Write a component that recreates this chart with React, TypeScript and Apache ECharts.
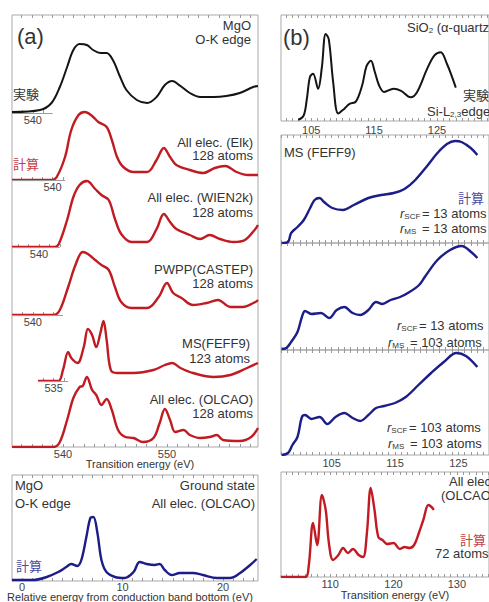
import React, { useEffect, useRef } from 'react';
import * as echarts from 'echarts';

// ---------- (a) MgO O-K edge, stacked spectra (energy eV, intensity a.u.) ----------
const expE = [538.0, 540.7, 541.8, 542.6, 543.3, 543.9, 544.5, 545.2, 545.8, 546.5, 547.1, 547.7, 548.4, 549.0, 550.0, 551.0, 551.9, 552.7, 553.4, 554.2, 555.1, 556.1, 557.4, 558.6, 559.9, 561.2, 561.65];
const expI = [1, 3, 10, 26, 46, 63, 69, 68, 63, 60, 60, 53, 36, 23, 13, 10, 16, 28, 32, 27, 20, 16, 16, 17, 20, 26, 27];

const elkE = [536.1, 539.9, 540.4, 541.2, 541.8, 542.5, 543.1, 543.8, 544.4, 545.2, 545.7, 546.2, 546.8, 547.8, 549.1, 550.0, 550.7, 551.3, 551.9, 553.2, 554.5, 555.6, 556.6, 557.7, 558.8, 559.75];
const elkI = [0, 0, 3, 23, 50, 65, 68, 64, 58, 53, 40, 23, 13, 8, 8, 20, 32, 23, 15, 10, 7, 12, 14, 8, 5, 5];

const wienE = [537.4, 541.5, 541.9, 542.7, 543.3, 543.9, 544.6, 545.4, 546.0, 546.7, 547.3, 547.9, 548.9, 550.4, 551.3, 552.0, 552.6, 553.2, 554.5, 555.5, 556.4, 557.4, 558.7, 559.8, 560.8, 561.05];
const wienI = [0, 0, 3, 27, 50, 62, 66, 58, 52, 47, 28, 13, 5, 5, 18, 33, 25, 18, 12, 8, 12, 8, 5, 7, 18, 22];

const castepE = [538.0, 542.0, 542.6, 543.4, 544.1, 544.8, 545.3, 546.0, 546.6, 547.3, 547.9, 548.5, 549.5, 551.0, 552.1, 552.9, 553.5, 554.3, 555.4, 556.7, 557.8, 559.0, 560.2, 561.4, 561.65];
const castepI = [0, 0, 5, 28, 50, 63, 61, 55, 50, 45, 28, 13, 7, 7, 18, 32, 22, 17, 10, 12, 15, 8, 8, 13, 15];

const feffE = [533.5, 535.45, 535.9, 536.4, 536.7, 537.3, 537.9, 538.3, 538.7, 539.1, 539.5, 539.8, 540.1, 540.5, 541.1, 542.7, 544.6, 545.7, 546.4, 547.2, 548.4, 550.4, 552.0, 553.6, 554.65];
const feffI = [0, 0, 11, 29, 23, 18, 34, 52, 46, 34, 48, 60, 41, 11, 8, 8, 11, 16, 18, 13, 8, 4, 6, 13, 18];

const olcaoE = [535.1, 539.1, 539.7, 540.4, 541.0, 541.6, 541.9, 542.3, 542.8, 543.2, 543.7, 544.2, 544.7, 545.3, 546.0, 546.8, 547.7, 548.7, 549.3, 549.8, 550.3, 550.8, 551.6, 552.2, 553.2, 554.1, 554.8, 555.4, 557.0, 558.1, 558.75];
const olcaoI = [0, 0, 5, 27, 49, 60, 61, 70, 57, 52, 42, 48, 37, 17, 10, 9, 5, 9, 24, 38, 27, 15, 17, 12, 9, 10, 12, 7, 6, 10, 19];

// ground state (relative energy eV)
const gsE = [-1.0, 1.1, 2.45, 3.6, 4.4, 4.9, 5.5, 5.9, 6.4, 6.8, 7.1, 7.5, 7.9, 8.4, 9.25, 10.2, 11.1, 11.7, 12.4, 13.2, 13.7, 14.2, 14.9, 15.7, 17.0, 18.0, 19.4, 20.7, 21.7, 22.7, 23.35];
const gsI = [1, 1, 4, 9, 14, 17, 15, 21, 44, 63, 64, 48, 21, 9, 4, 3, 9, 19, 17, 16, 17, 11, 6, 8, 8, 6, 3, 3, 8, 16, 22];

// ---------- (b) SiO2 Si-L2,3 edge ----------
const sio2E = [102.95, 103.8, 104.3, 104.8, 105.3, 106.1, 106.7, 107.3, 107.8, 108.5, 109.3, 110.2, 111.1, 112.1, 113.1, 113.8, 114.5, 115.1, 115.8, 116.6, 118.1, 119.3, 120.8, 121.85, 123.4, 124.6, 125.6, 126.6, 127.4, 128.0];
const sio2I = [1, 5, 20, 41, 44, 30, 50, 81, 76, 36, 7, 11, 16, 18, 33, 51, 56, 46, 33, 27, 30, 28, 22, 27, 48, 61, 64, 53, 41, 31];

const ms1E = [97.1, 98.1, 98.6, 99.6, 100.6, 101.6, 102.3, 103.1, 103.8, 105.1, 106.8, 108.5, 110.8, 112.8, 114.8, 116.5, 118.2, 120.2, 121.7, 123.2, 124.5, 125.5, 126.95, 128.0];
const ms1I = [0, 1, 10, 16, 23, 35, 43, 45, 41, 35, 33, 38, 45, 48, 50, 54, 63, 78, 90, 99, 102, 101, 95, 88];

const ms2E = [97.1, 97.85, 98.6, 99.6, 100.3, 100.8, 101.8, 103.3, 104.6, 105.8, 107.0, 108.3, 109.5, 110.8, 112.0, 113.0, 114.3, 115.8, 117.3, 118.8, 119.7, 121.7, 123.7, 125.5, 127.2, 128.0];
const ms2I = [1, 2, 8, 18, 33, 39, 36, 37, 32, 40, 43, 37, 35, 40, 48, 46, 50, 53, 58, 65, 73, 90, 100, 104, 97, 92];

const ms3E = [97.1, 98.1, 98.8, 99.6, 100.3, 100.8, 101.8, 103.1, 104.3, 105.6, 107.0, 108.3, 109.5, 110.8, 112.0, 113.3, 115.0, 116.7, 118.7, 120.7, 122.7, 124.7, 126.2, 128.0];
const ms3I = [0, 2, 10, 18, 38, 40, 36, 38, 31, 38, 42, 37, 34, 40, 47, 49, 52, 58, 70, 82, 93, 102, 99, 88];

const siOlcaoE = [102.2, 106.1, 106.6, 107.3, 107.95, 108.7, 109.3, 109.8, 110.45, 111.3, 112.05, 112.8, 113.6, 114.5, 115.2, 115.8, 116.4, 117.0, 117.6, 118.25, 119.0, 120.0, 121.0, 121.75, 122.5, 123.25, 124.0, 124.7, 125.5, 126.0, 126.35];
const siOlcaoI = [0, 0, 10, 54, 32, 82, 67, 34, 17, 22, 29, 24, 28, 22, 20, 44, 89, 67, 40, 37, 33, 34, 28, 30, 29, 32, 44, 57, 72, 70, 67];

// ---------- tick labels ----------
const aTickLabels = [540, 550];
const feffTickLabel = [535];
const stackTickLabel = [540];
const gsTickLabels = [0, 10, 20];
const b1TickLabels = [105, 115, 125];
const bMsTickLabels = [105, 115, 125];
const b5TickLabels = [110, 120, 130];

// short baseline axis segments of stacked spectra [start, end] (eV)
const expSeg = [538.0, 541.9];
const elkSeg = [536.1, 541.2];
const wienSeg = [537.4, 542.0];
const castepSeg = [538.0, 542.9];
const feffSeg = [533.5, 536.4];

const F = '"Liberation Sans", Arial, sans-serif';
const J = '"Noto Sans CJK JP", "Noto Sans CJK SC", sans-serif';
const RED = '#c01b22';
const BLUE = '#1d1d88';
const BLACK = '#141414';
const FRAME = '#a9a9a9';
const TXT = '#333333';
const RED_T = '#c44048';
const BLUE_T = '#4b4ba0';

function ints(a: number, b: number) {
  const r: number[] = [];
  for (let v = a; v <= b; v++) r.push(v);
  return r;
}
function pairs(xs: number[], ys: number[]) {
  return xs.map((x, i) => [x, ys[i]]);
}

function buildOption() {
  const grids: any[] = [];
  const xAxes: any[] = [];
  const yAxes: any[] = [];
  const series: any[] = [];

  const addGrid = (g: any) => { grids.push(g); return grids.length - 1; };
  const xAx = (grid: number, min: number, max: number, o: any = {}) => {
    xAxes.push({
      type: 'value', gridIndex: grid, min, max,
      position: o.top ? 'top' : 'bottom',
      axisLine: { show: false },
      splitLine: { show: false },
      axisTick: o.ticks
        ? { show: true, inside: true, length: 3, customValues: o.ticks, lineStyle: { color: '#999', width: 1 } }
        : { show: false },
      axisLabel: o.labels
        ? { show: true, customValues: o.labels, margin: o.margin ?? 2, fontSize: 11, lineHeight: 11, color: '#444', fontFamily: F }
        : { show: false },
    });
    return xAxes.length - 1;
  };
  const yAx = (grid: number, max: number) => {
    yAxes.push({ type: 'value', gridIndex: grid, min: 0, max, show: false });
    return yAxes.length - 1;
  };
  const addLine = (xi: number, yi: number, E: number[], I: number[], color: string, width: number, seg?: number[]) => {
    const s: any = {
      type: 'line', xAxisIndex: xi, yAxisIndex: yi, data: pairs(E, I),
      showSymbol: false, symbol: 'none', smooth: 0.35, silent: true,
      lineStyle: { color, width }, z: 3,
    };
    if (seg) {
      s.markLine = {
        silent: true, symbol: 'none', label: { show: false },
        lineStyle: { color: '#9a9a9a', width: 1, type: 'solid' },
        data: [[{ coord: [seg[0], 0] }, { coord: [seg[1], 0] }]],
      };
    }
    series.push(s);
  };

  // ---- panel (a) frame ----
  const gA = addGrid({ left: 12, top: 15, width: 246, height: 432, show: true, borderColor: FRAME, borderWidth: 1 });
  xAx(gA, 535.1, 558.75, { labels: aTickLabels, ticks: ints(536, 558), margin: 1 });
  xAx(gA, 535.1, 558.75, { top: true, ticks: ints(536, 558) });
  yAx(gA, 1);

  const span = 246 / 10.4;
  const stack = [
    { E: expE, I: expI, min: 538.0, base: 113, color: BLACK, w: 2, seg: expSeg, labels: stackTickLabel, ticks: [539, 540, 541] },
    { E: elkE, I: elkI, min: 536.1, base: 180, color: RED, w: 2.4, seg: elkSeg, labels: stackTickLabel, ticks: [537, 538, 539, 540, 541] },
    { E: wienE, I: wienI, min: 537.4, base: 247, color: RED, w: 2.4, seg: wienSeg, labels: stackTickLabel, ticks: [538, 539, 540, 541, 542] },
    { E: castepE, I: castepI, min: 538.0, base: 315, color: RED, w: 2.4, seg: castepSeg, labels: stackTickLabel, ticks: [539, 540, 541, 542] },
    { E: feffE, I: feffI, min: 531.0, base: 381, color: RED, w: 2.4, seg: feffSeg, labels: feffTickLabel, ticks: [534, 535, 536] },
    { E: olcaoE, I: olcaoI, min: 535.1, base: 447, color: RED, w: 2.4, seg: undefined, labels: undefined, ticks: undefined },
  ];
  stack.forEach((c) => {
    const g = addGrid({ left: 12, top: c.base - 75, width: 246, height: 75, show: false });
    const xi = xAx(g, c.min, c.min + span, { labels: c.labels, ticks: c.ticks, margin: 1 });
    const yi = yAx(g, 75);
    addLine(xi, yi, c.E, c.I, c.color, c.w, c.seg);
  });

  // ---- ground state panel ----
  const gG = addGrid({ left: 12, top: 475, width: 246, height: 106, show: true, borderColor: FRAME, borderWidth: 1 });
  const gx = xAx(gG, -1, 23.48, { labels: gsTickLabels, ticks: ints(0, 23), margin: 0 });
  xAx(gG, -1, 23.48, { top: true, ticks: ints(0, 23) });
  const gy = yAx(gG, 106);
  addLine(gx, gy, gsE, gsI, BLUE, 2.4);

  // ---- panel (b) ----
  const rightPanels = [
    { top: 15, h: 106, min: 100.2, max: 133.28, ymax: 98.6, E: sio2E, I: sio2I, color: BLACK, w: 2, labels: b1TickLabels, m: 3 },
    { top: 135, h: 108, min: 97, max: 129.84, ymax: 108, E: ms1E, I: ms1I, color: BLUE, w: 2.4, labels: undefined, m: 2 },
    { top: 243, h: 107, min: 97, max: 129.84, ymax: 107, E: ms2E, I: ms2I, color: BLUE, w: 2.4, labels: undefined, m: 2 },
    { top: 350, h: 105, min: 97, max: 129.84, ymax: 105, E: ms3E, I: ms3I, color: BLUE, w: 2.4, labels: bMsTickLabels, m: 2 },
    { top: 472, h: 105, min: 102.24, max: 135.07, ymax: 105, E: siOlcaoE, I: siOlcaoI, color: RED, w: 2.4, labels: b5TickLabels, m: 1 },
  ];
  rightPanels.forEach((p) => {
    const g = addGrid({ left: 281, top: p.top, width: 220, height: p.h, show: true, borderColor: FRAME, borderWidth: 1 });
    const t = ints(Math.ceil(p.min), Math.floor(p.max));
    const xi = xAx(g, p.min, p.max, { labels: p.labels, ticks: t, margin: p.m });
    xAx(g, p.min, p.max, { top: true, ticks: t });
    const yi = yAx(g, p.ymax);
    addLine(xi, yi, p.E, p.I, p.color, p.w);
  });

  // ---- texts ----
  const T = (text: string, x: number, y: number, o: any = {}) => ({
    type: 'text', x, y, silent: true, z: 10,
    style: {
      text, fill: o.color || TXT, fontSize: o.size || 13, fontFamily: o.font || F,
      lineHeight: o.lh || (o.size ? o.size : 12),
      textAlign: o.align || 'left', textVerticalAlign: 'middle', verticalAlign: 'middle',
    },
  });
  const baseRich = (color: string) => ({
    a: { fontSize: 13, fontFamily: F, fill: color, lineHeight: 15 },
    r: { fontSize: 13, fontFamily: F, fontStyle: 'italic', fill: color, lineHeight: 15 },
    s: { fontSize: 8, fontFamily: F, fill: color, lineHeight: 8, verticalAlign: 'bottom' },
    sw: { fontSize: 8, fontFamily: F, fill: color, lineHeight: 8, verticalAlign: 'bottom', width: 14 },
    t: { fontSize: 13, fontFamily: F, fill: color, lineHeight: 15 },
  });
  const R = (text: string, x: number, y: number) => ({
    type: 'text', x, y, silent: true, z: 10,
    style: { text, rich: baseRich(TXT), textAlign: 'left', textVerticalAlign: 'middle', verticalAlign: 'middle' },
  });
  const rs = (sub: string, rest: string) => `{r|r}{sw|${sub}}{t| = ${rest}}`;

  const graphic = [
    T('(a)', 17, 36, { size: 22 }),
    T('MgO', 251, 25, { align: 'right' }),
    T('O-K edge', 251, 39, { align: 'right' }),
    T('実験', 13, 93, { font: J }),
    T('計算', 13, 163, { font: J, color: RED_T }),
    T('All elec. (Elk)', 253, 142, { align: 'right' }),
    T('128 atoms', 253, 155, { align: 'right' }),
    T('All elec. (WIEN2k)', 253, 197, { align: 'right' }),
    T('128 atoms', 253, 212, { align: 'right' }),
    T('PWPP(CASTEP)', 253, 269, { align: 'right' }),
    T('128 atoms', 253, 283, { align: 'right' }),
    T('MS(FEFF9)', 250, 343, { align: 'right' }),
    T('123 atoms', 250, 358, { align: 'right' }),
    T('All elec. (OLCAO)', 253, 399, { align: 'right' }),
    T('128 atoms', 253, 413, { align: 'right' }),
    T('Transition energy (eV)', 140, 464, { align: 'center', size: 11, lh: 9 }),

    T('MgO', 15, 485),
    T('O-K edge', 15, 503),
    T('Ground state', 255, 485, { align: 'right' }),
    T('All elec. (OLCAO)', 255, 503, { align: 'right' }),
    T('計算', 16, 565, { font: J, color: BLUE_T }),
    T('Relative energy from conduction band bottom (eV)', 130, 597, { align: 'center', size: 11, lh: 9 }),

    T('(b)', 283, 37, { size: 22 }),
    R('{a|SiO}{s|2}{a| (α-quartz)}', 407, 27),
    T('実験', 463, 94, { font: J }),
    R('{a|Si-L}{s|2,3}{a|edge}', 427, 111),
    T('MS (FEFF9)', 284, 152),
    T('計算', 458, 197, { font: J, color: BLUE_T }),
    R(rs('SCF', '13 atoms'), 400, 213),
    R(rs('MS', '13 atoms'), 400, 228),
    R(rs('SCF', '13 atoms'), 397, 325),
    R(rs('MS', '103 atoms'), 388, 342),
    R(rs('SCF', '103 atoms'), 387, 427),
    R(rs('MS', '103 atoms'), 388, 443),
    T('All elec.', 449, 481),
    T('(OLCAO)', 441, 495),
    T('計算', 460, 539, { font: J, color: RED_T }),
    T('72 atoms', 435, 553),
    T('Transition energy (eV)', 395, 595, { align: 'center', size: 11, lh: 10 }),
  ];

  return {
    animation: false,
    backgroundColor: '#ffffff',
    grid: grids,
    xAxis: xAxes,
    yAxis: yAxes,
    series,
    graphic,
  };
}

export default function App() {
  const ref = useRef<HTMLDivElement>(null);
  useEffect(() => {
    if (!ref.current) return;
    const chart = echarts.init(ref.current, undefined, { renderer: 'svg' });
    chart.setOption(buildOption() as any);
    return () => chart.dispose();
  }, []);
  return (
    <div
      ref={ref}
      style={{ position: 'fixed', left: 0, top: 0, width: 489, height: 602, background: '#fff' }}
    />
  );
}
